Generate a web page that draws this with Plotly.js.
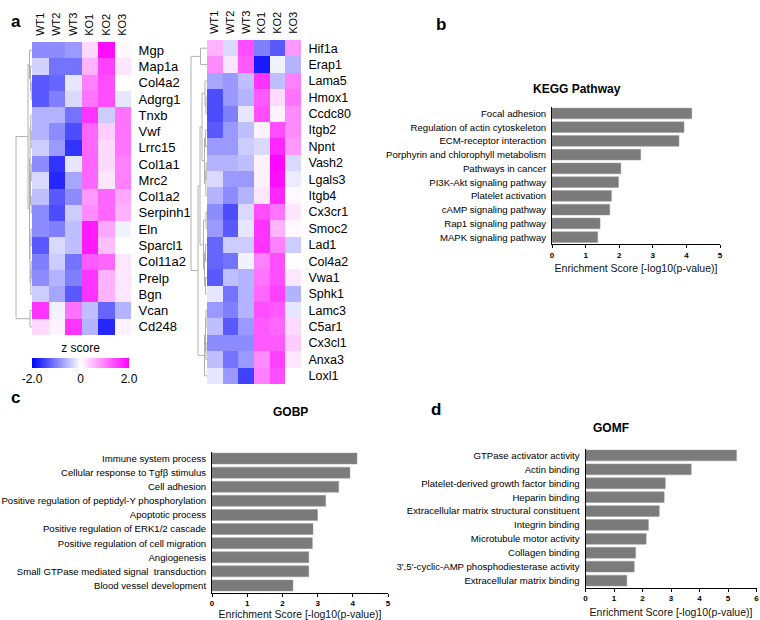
<!DOCTYPE html>
<html><head><meta charset="utf-8">
<script src="https://cdn.plot.ly/plotly-3.0.1.min.js"></script>
<style>html,body{margin:0;padding:0;background:#fff}#chart{width:760px;height:620px}</style>
</head><body><div id="chart"></div>
<script>
// ---------- DATA ----------
const samples = ['WT1','WT2','WT3','KO1','KO2','KO3'];
const leftGenes = ['Mgp','Map1a','Col4a2','Adgrg1','Tnxb','Vwf','Lrrc15','Col1a1','Mrc2','Col1a2','Serpinh1','Eln','Sparcl1','Col11a2','Prelp','Bgn','Vcan','Cd248'];
const leftZ = [
 [-0.9,-0.9,-0.8, 0.3, 1.9, 0.05],
 [-0.35,-1.1,-1.1, 0.6, 1.5, 0.2],
 [-1.3,-1.2,-0.2, 1.0, 1.4, 0.0],
 [-1.3,-1.0,-0.3, 1.1, 1.4,-0.2],
 [-0.6,-0.6,-1.1, 1.6,-0.4, 1.1],
 [-0.6,-0.9,-1.4, 1.2, 0.4, 1.1],
 [-0.4,-0.8,-1.6, 1.2, 0.3, 1.1],
 [-0.9,-1.6,-0.2, 1.2, 0.3, 1.0],
 [-0.3,-1.7,-0.7, 1.2, 0.2, 1.0],
 [-0.5,-1.3,-0.9, 0.8, 1.2, 0.7],
 [-0.9,-1.4,-0.4, 0.9, 1.2, 0.6],
 [-0.9,-1.0,-0.5, 1.8, 0.7,-0.1],
 [-1.3,-0.3,-0.5, 1.8, 0.5, 0.0],
 [-1.0,-0.4,-1.1, 1.3, 1.2, 0.2],
 [-0.9,-0.6,-1.0, 1.6, 0.6, 0.2],
 [-0.4,-0.7,-1.3, 1.6, 0.6, 0.2],
 [ 1.6,-0.1, 1.1,-0.5,-1.2,-0.6],
 [ 0.3, 0.1, 1.6,-0.6,-1.7, 0.1]
];
const rightGenes = ['Hif1a','Erap1','Lama5','Hmox1','Ccdc80','Itgb2','Npnt','Vash2','Lgals3','Itgb4','Cx3cr1','Smoc2','Lad1','Col4a2','Vwa1','Sphk1','Lamc3','C5ar1','Cx3cl1','Anxa3','Loxl1'];
const rightZ = [
 [ 0.6,-0.3, 1.4,-1.0,-1.3, 0.8],
 [ 0.9, 0.2, 1.3,-1.8,-0.1,-0.6],
 [-0.7,-0.8,-0.5, 1.6,-0.5, 1.0],
 [-1.4,-0.8,-0.6, 1.3, 0.3, 1.1],
 [-1.4,-1.0,-0.2, 1.4, 0.1, 0.9],
 [-1.3,-0.8,-0.5, 0.1, 1.4, 0.9],
 [-0.8,-0.8,-0.4,-0.3, 1.7, 0.8],
 [-0.6,-0.6,-0.5, 0.1, 1.95,-0.3],
 [-0.3,-0.8,-0.8, 0.1, 1.9,-0.15],
 [-0.6,-0.9,-0.6, 0.2, 1.7, 0.05],
 [-0.9,-1.4,-0.3, 1.4, 1.1, 0.2],
 [-0.8,-1.3,-0.2, 1.6, 0.6, 0.05],
 [-1.2,-0.4,-0.4, 1.6, 1.0,-0.4],
 [-1.2,-1.1,-0.1, 1.0, 1.4, 0.0],
 [-1.3,-0.5,-0.6, 1.1, 1.4, 0.2],
 [-0.2,-1.1,-0.6, 1.2, 1.5,-0.6],
 [-0.8,-1.0,-0.6, 1.4, 1.3,-0.2],
 [-0.5,-1.3,-0.8, 1.3, 1.2, 0.3],
 [-0.9,-0.9,-0.9, 1.3, 1.3, 0.4],
 [-0.5,-1.1,-0.8, 0.9, 1.5, 0.2],
 [-0.2,-0.8,-1.5, 1.0, 1.4, 0.0]
];
// dendrogram merges: [childA, childB, height]
const leftMerges = [[2,3,0.8],[1,18,1.5],[0,19,2.5],[5,6,0.8],[7,8,0.8],[9,10,0.8],[4,21,1.2],[22,23,1.5],[24,25,2],[13,14,0.8],[27,15,1.2],[11,12,1],[29,28,2],[26,30,2.5],[20,31,4],[16,17,2],[32,33,16]];
const rightMerges = [[0,1,6.5],[3,4,1],[2,22,2],[5,6,1.5],[7,8,0.8],[25,9,1.2],[24,26,2.5],[23,27,5],[10,11,1],[12,13,1.5],[14,15,1.5],[30,31,2.5],[29,32,3.5],[16,17,1],[18,19,1],[34,35,1.5],[36,20,2.5],[28,33,7],[38,37,9],[21,39,16]];
const colorTicks = [-2, 0, 2];
const colorTickText = ['-2.0', '0', '2.0'];

const keggTerms = ['Focal adhesion','Regulation of actin cytoskeleton','ECM-receptor interaction','Porphyrin and chlorophyll metabolism','Pathways in cancer','PI3K-Akt signaling pathway','Platelet activation','cAMP signaling pathway','Rap1 signaling pathway','MAPK signaling pathway'];
const keggScores = [4.16, 3.93, 3.78, 2.64, 2.05, 1.98, 1.77, 1.72, 1.43, 1.36];
const gobpTerms = ['Immune system process','Cellular response to Tgfβ stimulus','Cell adhesion','Positive regulation of peptidyl-Y phosphorylation','Apoptotic process','Positive regulation of ERK1/2 cascade','Positive regulation of cell migration','Angiogenesis','Small GTPase mediated signal  transduction','Blood vessel development'];
const gobpScores = [4.12, 3.92, 3.60, 3.23, 3.00, 2.87, 2.85, 2.75, 2.75, 2.30];
const gomfTerms = ['GTPase activator activity','Actin binding','Platelet-derived growth factor binding','Heparin binding','Extracellular matrix structural constituent','Integrin binding','Microtubule motor activity','Collagen binding','3\u2032,5\u2032-cyclic-AMP phosphodiesterase activity','Extracellular matrix binding'];
const gomfScores = [5.30, 3.71, 2.80, 2.76, 2.59, 2.21, 2.13, 1.76, 1.71, 1.45];

// ---------- HELPERS ----------
const W = 760, H = 620;
const px = v => v / W;
const py = v => 1 - v / H;
const FONT = 'Arial, "Liberation Sans", sans-serif';

function dendro(n, merges) {
  const pos = [], ht = [], xs = [], ys = [];
  for (let i = 0; i < n; i++) { pos.push(i); ht.push(0); }
  merges.forEach(([a, b, h]) => {
    xs.push(ht[a], h, h, ht[b], null);
    ys.push(pos[a], pos[a], pos[b], pos[b], null);
    pos.push((pos[a] + pos[b]) / 2); ht.push(h);
  });
  return {x: xs, y: ys};
}

const dl = dendro(leftGenes.length, leftMerges);
const dr = dendro(rightGenes.length, rightMerges);

const barColor = '#7b7b7b';
const traces = [
  {type:'heatmap', x:samples, y:leftGenes, z:leftZ, coloraxis:'coloraxis', xaxis:'x', yaxis:'y', hoverinfo:'skip'},
  {type:'heatmap', x:samples, y:rightGenes, z:rightZ, coloraxis:'coloraxis', xaxis:'x2', yaxis:'y2', hoverinfo:'skip'},
  {type:'scatter', mode:'lines', x:dl.x, y:dl.y, xaxis:'x3', yaxis:'y3', line:{color:'#b0b0b0', width:1}, hoverinfo:'skip', showlegend:false},
  {type:'scatter', mode:'lines', x:dr.x, y:dr.y, xaxis:'x4', yaxis:'y4', line:{color:'#b0b0b0', width:1}, hoverinfo:'skip', showlegend:false},
  {type:'bar', orientation:'h', x:keggScores, y:keggTerms, xaxis:'x5', yaxis:'y5', marker:{color:barColor, line:{color:'#9a9a9a', width:0.5}}, hoverinfo:'skip'},
  {type:'bar', orientation:'h', x:gobpScores, y:gobpTerms, xaxis:'x6', yaxis:'y6', marker:{color:barColor, line:{color:'#9a9a9a', width:0.5}}, hoverinfo:'skip'},
  {type:'bar', orientation:'h', x:gomfScores, y:gomfTerms, xaxis:'x7', yaxis:'y7', marker:{color:barColor, line:{color:'#9a9a9a', width:0.5}}, hoverinfo:'skip'}
];

function heatX(dom, anchor) {
  return {domain:dom, anchor:anchor, side:'top', tickangle:-90, ticks:'outside', ticklen:3, tickcolor:'rgba(0,0,0,0)',
          tickfont:{family:FONT, size:11, color:'#000'}, showgrid:false, zeroline:false, showline:false, fixedrange:true};
}
function heatY(dom, anchor, size) {
  return {domain:dom, anchor:anchor, side:'right', autorange:'reversed', ticks:'outside', ticklen:4, tickcolor:'rgba(0,0,0,0)',
          tickfont:{family:FONT, size:size, color:'#000'}, showgrid:false, zeroline:false, showline:false, fixedrange:true};
}
function dendX(dom, anchor) {
  return {domain:dom, anchor:anchor, range:[18, 0], visible:false, fixedrange:true};
}
function dendY(dom, anchor, n) {
  return {domain:dom, anchor:anchor, range:[n - 0.5, -0.5], visible:false, fixedrange:true};
}
function barX(dom, anchor, max) {
  return {domain:dom, anchor:anchor, range:[0, max], dtick:1, showline:true, linecolor:'#000', linewidth:1,
          ticks:'outside', ticklen:3, tickcolor:'#000', tickwidth:1, showgrid:false, zeroline:false,
          tickfont:{family:FONT, size:8, color:'#000', weight:'bold'},
          title:{text:'Enrichment Score [-log10(p-value)]', font:{family:FONT, size:10.5, color:'#111'}, standoff:6}, fixedrange:true};
}
function barY(dom, anchor) {
  return {domain:dom, anchor:anchor, autorange:'reversed', showline:true, linecolor:'#000', linewidth:1, ticks:'',
          ticklabelstandoff:3, tickfont:{family:FONT, size:9.6, color:'#000'}, showgrid:false, zeroline:false, fixedrange:true};
}

const layout = {
  width:W, height:H, margin:{l:0, r:0, t:0, b:0}, paper_bgcolor:'#fff', plot_bgcolor:'rgba(0,0,0,0)',
  showlegend:false, bargap:0.22,
  coloraxis:{cmin:-2, cmax:2, colorscale:[[0,'#0000ff'],[0.5,'#ffffff'],[1,'#ff00ff']],
    colorbar:{orientation:'h', lenmode:'pixels', len:97, thickness:10, x:px(80.5), xanchor:'center', y:py(363), yanchor:'middle',
      outlinewidth:0, tickvals:colorTicks, ticktext:colorTickText, ticks:'', ticklabelposition:'outside bottom',
      tickfont:{family:FONT, size:12, color:'#000'},
      title:{text:'z score', side:'top', font:{family:FONT, size:12, color:'#000'}}, xpad:0, ypad:0}},
  xaxis: heatX([px(32), px(131)], 'y'),
  yaxis: heatY([py(335), py(42)], 'x', 13),
  xaxis2: heatX([px(207), px(301)], 'y2'),
  yaxis2: heatY([py(384), py(40)], 'x2', 12.5),
  xaxis3: dendX([px(14), px(32)], 'y3'),
  yaxis3: dendY([py(335), py(42)], 'x3', leftGenes.length),
  xaxis4: dendX([px(189), px(207)], 'y4'),
  yaxis4: dendY([py(384), py(40)], 'x4', rightGenes.length),
  xaxis5: barX([px(552), px(720)], 'y5', 5),
  yaxis5: barY([py(244), py(106.6)], 'x5'),
  xaxis6: barX([px(212), px(388)], 'y6', 5),
  yaxis6: barY([py(592.5), py(451.5)], 'x6'),
  xaxis7: barX([px(585.5), px(756.5)], 'y7', 6),
  yaxis7: barY([py(587.5), py(448.5)], 'x7'),
  annotations: [
    {text:'<b>a</b>', x:px(9), y:py(10), xref:'paper', yref:'paper', showarrow:false, font:{family:FONT, size:17, color:'#000'}},
    {text:'<b>b</b>', x:px(441), y:py(13), xref:'paper', yref:'paper', showarrow:false, font:{family:FONT, size:17, color:'#000'}},
    {text:'<b>c</b>', x:px(9), y:py(397), xref:'paper', yref:'paper', showarrow:false, font:{family:FONT, size:17, color:'#000'}},
    {text:'<b>d</b>', x:px(436), y:py(409), xref:'paper', yref:'paper', showarrow:false, font:{family:FONT, size:17, color:'#000'}},
    {text:'<b>KEGG Pathway</b>', x:px(623), y:py(80), xref:'paper', yref:'paper', showarrow:false, font:{family:FONT, size:12, color:'#000'}},
    {text:'<b>GOBP</b>', x:px(290), y:py(421), xref:'paper', yref:'paper', showarrow:false, font:{family:FONT, size:12, color:'#000'}},
    {text:'<b>GOMF</b>', x:px(631), y:py(437), xref:'paper', yref:'paper', showarrow:false, font:{family:FONT, size:12, color:'#000'}}
  ]
};

Plotly.newPlot('chart', traces, layout, {displayModeBar:false, staticPlot:true});
</script></body></html>
